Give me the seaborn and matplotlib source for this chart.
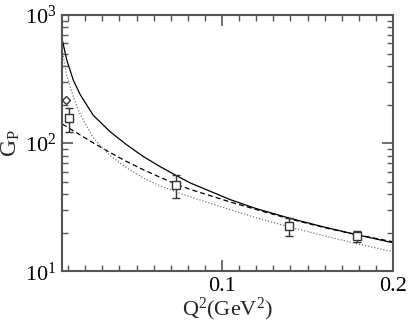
import numpy as np
import pandas as pd
import matplotlib
matplotlib.use("Agg")
import matplotlib.pyplot as plt
import seaborn as sns
from matplotlib.ticker import MultipleLocator, LogLocator, LogFormatterMathtext, FixedLocator

# ---- data ----
solid_q2 = [0.0066, 0.0092, 0.0130, 0.0170, 0.0247, 0.0345, 0.0443, 0.0540, 0.0637, 0.0725, 0.0813,
            0.1047, 0.1198, 0.1398, 0.1600, 0.1788, 0.2000]
solid_gp = [638, 446, 311, 240, 165, 123, 97, 78.6, 65.7, 56.6, 49.0,
            36.3, 30.9, 25.9, 22.1, 19.3, 16.7]

dashed_q2 = [0.0066, 0.0170, 0.0247, 0.0345, 0.0443, 0.0540, 0.0637, 0.0725, 0.0813, 0.1047, 0.1198,
             0.1398, 0.1600, 0.1788, 0.2000]
dashed_gp = [141, 116, 100.5, 84.5, 71.8, 62.0, 54.2, 48.3, 43.6, 34.8, 30.4,
             25.6, 21.9, 19.3, 17.0]

dotted_q2 = [0.0066, 0.0092, 0.0130, 0.0170, 0.0247, 0.0345, 0.0443, 0.0540, 0.0637, 0.0725, 0.0813,
             0.1047, 0.1198, 0.1398, 0.1600, 0.1788, 0.2000]
dotted_gp = [534, 335, 232, 168, 110, 80, 64, 53.5, 46.5, 42.0, 38.2,
             30.3, 26.2, 22.1, 18.9, 16.4, 14.2]

sq_q2 = [0.0105, 0.073, 0.139, 0.179]
sq_gp = [156, 47, 22.5, 18.8]
sq_err_lo = [34, 9.4, 3.7, 1.9]
sq_err_hi = [33, 9, 3.5, 1.9]

dia_q2 = [0.0088]
dia_gp = [219]

xticks_major = [0.1, 0.2]
xtick_labels = ["0.1", "0.2"]

# ---- style ----
sns.set_style("ticks")
plt.rcParams["font.family"] = ["Liberation Serif", "DejaVu Serif"]
plt.rcParams["mathtext.fontset"] = "custom"
plt.rcParams["mathtext.rm"] = "Liberation Serif"
plt.rcParams["mathtext.it"] = "Liberation Serif:italic"

fig = plt.figure(figsize=(4.09, 3.27), dpi=100)
ax = fig.add_axes([62.3/409, 1-271.3/327, (393-62.3)/409, (271.3-15)/327])

df_s = pd.DataFrame({"q2": solid_q2, "gp": solid_gp})
df_d = pd.DataFrame({"q2": dashed_q2, "gp": dashed_gp})
df_o = pd.DataFrame({"q2": dotted_q2, "gp": dotted_gp})

sns.lineplot(data=df_s, x="q2", y="gp", ax=ax, color="black", lw=0.9, sort=True, estimator=None)
sns.lineplot(data=df_d, x="q2", y="gp", ax=ax, color="black", lw=0.9, sort=True, estimator=None,
             linestyle=(0, (4, 2.5)))
sns.lineplot(data=df_o, x="q2", y="gp", ax=ax, color="#777777", lw=0.9, sort=True, estimator=None,
             linestyle=(0, (1, 1.5)))

ax.errorbar(sq_q2, sq_gp, yerr=[sq_err_lo, sq_err_hi], fmt="s", mfc="white", mec="#333333",
            ms=5.5, mew=1.0, ecolor="#333333", elinewidth=1.0, capsize=3, capthick=1.0, zorder=5)
ax.plot(dia_q2, dia_gp, "D", mfc="white", mec="#333333", ms=4.5, mew=1.0, zorder=5)

ax.set_yscale("log")
ax.set_xlim(0.0066, 0.2)
ax.set_ylim(10, 1000)

ax.xaxis.set_major_locator(FixedLocator(xticks_major))
ax.set_xticklabels(xtick_labels)
ax.xaxis.set_minor_locator(MultipleLocator(0.01))
ax.yaxis.set_major_locator(LogLocator(base=10))
ax.yaxis.set_minor_locator(LogLocator(base=10, subs=np.arange(2, 10)))
ax.yaxis.set_major_formatter(LogFormatterMathtext())

ax.tick_params(which="both", direction="in", top=True, right=True, colors="#555555",
               labelcolor="black", labelsize=16)
ax.tick_params(which="major", length=8, width=1.2, pad=4)
ax.tick_params(which="minor", length=4, width=1.0)

for s in ax.spines.values():
    s.set_color("#555555")
    s.set_linewidth(1.5)

ax.set_xlabel("Q$^2$(GeV$^2$)", fontsize=16, labelpad=0)
ax.set_ylabel("G$_\\mathrm{P}$", fontsize=17, labelpad=2)

fig.savefig("out.png", dpi=100)
